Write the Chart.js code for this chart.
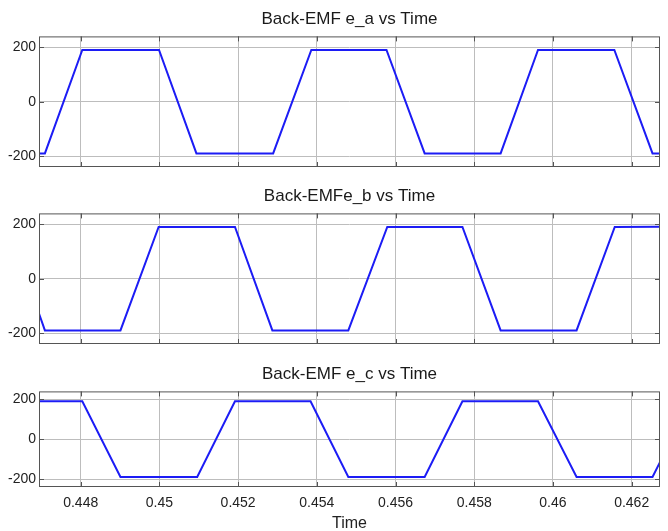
<!DOCTYPE html>
<html>
<head>
<meta charset="utf-8">
<script src="https://cdn.jsdelivr.net/npm/chart.js@4.4.0/dist/chart.umd.min.js"></script>
<style>
html, body { margin: 0; padding: 0; background: #fff; overflow: hidden; }
.panel { position: absolute; left: 0; width: 668px; }
</style>
</head>
<body>
<div class="panel" style="top:0;height:168px"><canvas id="chA"></canvas></div>
<div class="panel" style="top:177px;height:168px"><canvas id="chB"></canvas></div>
<div class="panel" style="top:355px;height:178px"><canvas id="chC"></canvas></div>
<script>
// corner points of each trapezoid
const timeA = [0.44694, 0.44709, 0.44804, 0.44999, 0.45094, 0.45289, 0.45386, 0.45577, 0.45674, 0.45867, 0.45962, 0.46156, 0.46253, 0.46272];
const emfA  = [-190, -190, 190, 190, -190, -190, 190, 190, -190, -190, 190, 190, -190, -190];

const timeB = [0.44694, 0.44709, 0.44901, 0.44998, 0.45192, 0.45287, 0.45480, 0.45579, 0.45770, 0.45867, 0.46060, 0.46157, 0.46272];
const emfB  = [-128, -190, -190, 190, 190, -190, -190, 190, 190, -190, -190, 190, 191];

const timeC = [0.44694, 0.44804, 0.44901, 0.45096, 0.45192, 0.45384, 0.45480, 0.45674, 0.45770, 0.45962, 0.46060, 0.46253, 0.46272];
const emfC  = [190, 190, -190, -190, 190, 190, -190, -190, 190, 190, -190, -190, -115];

const titles = ['Back-EMF e_a vs Time', 'Back-EMFe_b vs Time', 'Back-EMF e_c vs Time'];
const xTicks = [0.448, 0.45, 0.452, 0.454, 0.456, 0.458, 0.46, 0.462];
const yTicks = [-200, 0, 200];
const xMin = 0.44694, xMax = 0.46272;
const yMin = -240, yMax = 240;

const FONT = "'Liberation Sans', Arial, sans-serif";

// MATLAB-style box with small inward ticks on every edge
const boxPlugin = {
  id: 'box',
  afterDraw(chart) {
    const a = chart.chartArea, c = chart.ctx;
    c.save();
    c.strokeStyle = '#555';
    c.lineWidth = 1;
    c.strokeRect(a.left + 0.5, a.top + 0.5, a.right - a.left - 1, a.bottom - a.top - 1);
    c.beginPath();
    chart.scales.x.ticks.forEach(t => {
      const px = Math.round(chart.scales.x.getPixelForValue(t.value)) + 0.5;
      c.moveTo(px, a.top); c.lineTo(px, a.top + 5);
      c.moveTo(px, a.bottom); c.lineTo(px, a.bottom - 5);
    });
    chart.scales.y.ticks.forEach(t => {
      const py = Math.round(chart.scales.y.getPixelForValue(t.value)) + 0.5;
      c.moveTo(a.right, py); c.lineTo(a.right - 5, py);
      c.moveTo(a.left, py); c.lineTo(a.left + 5, py);
    });
    c.stroke();
    c.restore();
  }
};

function makeChart(id, times, values, title, bottom) {
  const pts = times.map((t, i) => ({ x: t, y: values[i] }));
  return new Chart(document.getElementById(id), {
    type: 'line',
    data: {
      datasets: [{
        data: pts,
        borderColor: '#1c1cf5',
        borderWidth: 2,
        pointRadius: 0,
        tension: 0,
        fill: false
      }]
    },
    options: {
      responsive: true,
      maintainAspectRatio: false,
      animation: false,
      layout: { padding: { left: 0, right: 8, top: 0, bottom: bottom ? 0 : 1 } },
      plugins: {
        legend: { display: false },
        tooltip: { enabled: false },
        title: {
          display: true,
          fullSize: false,
          text: title,
          color: '#1a1a1a',
          font: { family: FONT, size: 17, weight: 'normal' },
          padding: { top: 9, bottom: 7 }
        }
      },
      scales: {
        x: {
          type: 'linear',
          min: xMin,
          max: xMax,
          afterBuildTicks: s => { s.ticks = xTicks.map(v => ({ value: v })); },
          afterFit: s => { s.height = bottom ? 46 : 0; },
          grid: { color: '#bdbdbd', lineWidth: 1, drawTicks: false },
          border: { display: false },
          ticks: {
            display: bottom,
            padding: 8,
            color: '#222',
            font: { family: FONT, size: 14 },
            maxRotation: 0,
            callback: v => String(+v.toFixed(3))
          },
          title: {
            display: bottom,
            text: 'Time',
            color: '#222',
            font: { family: FONT, size: 16 },
            padding: { top: 3, bottom: 0 }
          }
        },
        y: {
          min: yMin,
          max: yMax,
          afterBuildTicks: s => { s.ticks = yTicks.map(v => ({ value: v })); },
          afterFit: s => { s.width = 39; s.paddingTop = 0; s.paddingBottom = 0; },
          grid: { color: '#bdbdbd', lineWidth: 1, drawTicks: false },
          border: { display: false },
          ticks: {
            padding: 3,
            color: '#222',
            font: { family: FONT, size: 14 }
          }
        }
      }
    },
    plugins: [boxPlugin]
  });
}

makeChart('chA', timeA, emfA, titles[0], false);
makeChart('chB', timeB, emfB, titles[1], false);
makeChart('chC', timeC, emfC, titles[2], true);
</script>
</body>
</html>
